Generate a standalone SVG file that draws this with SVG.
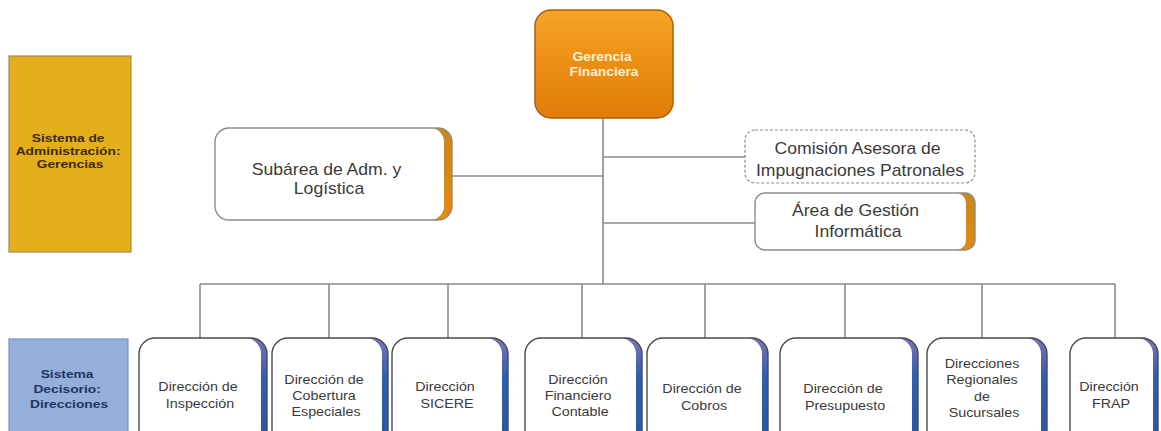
<svg xmlns="http://www.w3.org/2000/svg" width="1161" height="431" viewBox="0 0 1161 431">
  <style>
    .link { fill: none; stroke: #8a8a8a; stroke-width: 1.6; }
    .label { font-family: "Liberation Sans", Arial, sans-serif; text-anchor: middle; }
    .gold { fill: #E5AE1B; stroke: #9c8a5c; stroke-width: 1.2; }
    .gold-t { font-size: 11.5px; font-weight: bold; fill: #3b2c05; }
    .blue { fill: #94AFDA; stroke: #7b94c2; stroke-width: 1.2; }
    .blue-t { font-size: 11.5px; font-weight: bold; fill: #1d3563; }
    .head { fill: url(#orangeFill); stroke: #a95f0a; stroke-width: 1.5; }
    .head-t { font-size: 12px; font-weight: bold; fill: #fff1d8; }
    .card-dash { fill: #ffffff; stroke: #8c8c8c; stroke-width: 1.2; stroke-dasharray: 3 2; }
    .card-t { font-size: 16px; fill: #3a3a3a; }
    .dir-t { font-size: 13px; fill: #3a3a3a; }
    .edge-o { fill: url(#orangeEdge); }
    .edge-b { fill: url(#blueEdge); }
  </style>
  <defs>
    <linearGradient id="orangeFill" x1="0" y1="0" x2="0" y2="1">
      <stop offset="0" stop-color="#F5A526"/>
      <stop offset="0.5" stop-color="#EC8E14"/>
      <stop offset="1" stop-color="#E07C0B"/>
    </linearGradient>
    <linearGradient id="orangeEdge" x1="0" y1="0" x2="0" y2="1">
      <stop offset="0" stop-color="#C9871E"/>
      <stop offset="1" stop-color="#E48A0E"/>
    </linearGradient>
    <linearGradient id="blueEdge" x1="0" y1="0" x2="0" y2="1">
      <stop offset="0" stop-color="#7d72b8"/>
      <stop offset="0.35" stop-color="#2f5fae"/>
      <stop offset="1" stop-color="#2a56a0"/>
    </linearGradient>
  </defs>

  <!-- connectors -->
  <g id="connectors">
    <path class="link" d="M603 118 V284"/>
    <path class="link" d="M452 176 H603"/>
    <path class="link" d="M603 157 H745"/>
    <path class="link" d="M603 223 H755"/>
    <path class="link" d="M200 284 H1115"/>
    <path class="link" d="M200 284 V338 M329 284 V338 M448 284 V338 M582 284 V338 M705 284 V338 M845 284 V338 M982 284 V338 M1115 284 V338"/>
  </g>

  <!-- side labels -->
  <g id="label-gerencias">
    <rect class="gold" x="9" y="56" width="122" height="196"/>
    <text class="label gold-t" transform="translate(70 0) scale(1.2 1)">
      <tspan x="0" y="142">Sistema de</tspan>
      <tspan x="0" y="155">Administración:</tspan>
      <tspan x="0" y="168">Gerencias</tspan>
    </text>
  </g>
  <g id="label-direcciones">
    <rect class="blue" x="9" y="339" width="119" height="100"/>
    <text class="label blue-t" transform="translate(69 0) scale(1.2 1)">
      <tspan x="0" y="378">Sistema</tspan>
      <tspan x="0" y="393">Decisorio:</tspan>
      <tspan x="0" y="408">Direcciones</tspan>
    </text>
  </g>

  <!-- top node -->
  <g id="gerencia-financiera">
    <rect class="head" x="535" y="10" width="138" height="108" rx="16"/>
    <text class="label head-t" transform="translate(604 0) scale(1.15 1)">
      <tspan x="0" y="61">Gerencia</tspan>
      <tspan x="0" y="76">Financiera</tspan>
    </text>
  </g>

  <!-- second level -->
  <g id="subarea-adm">
    <rect class="edge-o" x="215" y="128" width="237" height="92" rx="14"/>
    <rect x="215" y="128" width="229" height="92" rx="14" fill="#ffffff"/>
    <rect x="215" y="128" width="237" height="92" rx="14" fill="none" stroke="#8c8c8c" stroke-width="1.4"/>
    <text class="label card-t" transform="translate(329 0) scale(1.1 1)">
      <tspan x="0" y="175">Subárea de Adm. y</tspan>
      <tspan x="0" y="194">Logística</tspan>
    </text>
  </g>
  <g id="comision-asesora">
    <rect class="card-dash" x="745" y="130" width="230" height="53" rx="10"/>
    <text class="label card-t" transform="translate(860 0) scale(1.1 1)">
      <tspan x="0" y="154">Comisión Asesora de</tspan>
      <tspan x="0" y="176">Impugnaciones Patronales</tspan>
    </text>
  </g>
  <g id="area-gestion-informatica">
    <rect class="edge-o" x="755" y="193" width="220" height="57" rx="10"/>
    <rect x="755" y="193" width="211" height="57" rx="10" fill="#ffffff"/>
    <rect x="755" y="193" width="220" height="57" rx="10" fill="none" stroke="#8c8c8c" stroke-width="1.4"/>
    <text class="label card-t" transform="translate(858 0) scale(1.1 1)">
      <tspan x="0" y="216">Área de Gestión</tspan>
      <tspan x="0" y="237">Informática</tspan>
    </text>
  </g>

  <!-- direcciones -->
  <g id="dir-inspeccion">
    <rect class="edge-b" x="139" y="338" width="128" height="110" rx="16"/>
    <rect x="139" y="338" width="122" height="110" rx="16" fill="#ffffff"/>
    <rect x="139" y="338" width="128" height="110" rx="16" fill="none" stroke="#4a4a4a" stroke-width="1.4"/>
    <text class="label dir-t" transform="translate(200 0) scale(1.1 1)">
      <tspan x="0" y="391">Dirección de</tspan>
      <tspan x="0" y="408">Inspección</tspan>
    </text>
  </g>
  <g id="dir-cobertura">
    <rect class="edge-b" x="272" y="338" width="116" height="110" rx="16"/>
    <rect x="272" y="338" width="110" height="110" rx="16" fill="#ffffff"/>
    <rect x="272" y="338" width="116" height="110" rx="16" fill="none" stroke="#4a4a4a" stroke-width="1.4"/>
    <text class="label dir-t" transform="translate(326 0) scale(1.1 1)">
      <tspan x="0" y="384">Dirección de</tspan>
      <tspan x="0" y="400">Cobertura</tspan>
      <tspan x="0" y="416">Especiales</tspan>
    </text>
  </g>
  <g id="dir-sicere">
    <rect class="edge-b" x="392" y="338" width="116" height="110" rx="16"/>
    <rect x="392" y="338" width="110" height="110" rx="16" fill="#ffffff"/>
    <rect x="392" y="338" width="116" height="110" rx="16" fill="none" stroke="#4a4a4a" stroke-width="1.4"/>
    <text class="label dir-t" transform="translate(447 0) scale(1.1 1)">
      <tspan x="0" y="391">Dirección</tspan>
      <tspan x="0" y="408">SICERE</tspan>
    </text>
  </g>
  <g id="dir-financiero-contable">
    <rect class="edge-b" x="525" y="338" width="117" height="110" rx="16"/>
    <rect x="525" y="338" width="111" height="110" rx="16" fill="#ffffff"/>
    <rect x="525" y="338" width="117" height="110" rx="16" fill="none" stroke="#4a4a4a" stroke-width="1.4"/>
    <text class="label dir-t" transform="translate(580 0) scale(1.1 1)">
      <tspan x="0" y="384">Dirección</tspan>
      <tspan x="0" y="400">Financiero</tspan>
      <tspan x="0" y="416">Contable</tspan>
    </text>
  </g>
  <g id="dir-cobros">
    <rect class="edge-b" x="647" y="338" width="121" height="110" rx="16"/>
    <rect x="647" y="338" width="115" height="110" rx="16" fill="#ffffff"/>
    <rect x="647" y="338" width="121" height="110" rx="16" fill="none" stroke="#4a4a4a" stroke-width="1.4"/>
    <text class="label dir-t" transform="translate(704 0) scale(1.1 1)">
      <tspan x="0" y="393">Dirección de</tspan>
      <tspan x="0" y="410">Cobros</tspan>
    </text>
  </g>
  <g id="dir-presupuesto">
    <rect class="edge-b" x="780" y="338" width="138" height="110" rx="16"/>
    <rect x="780" y="338" width="132" height="110" rx="16" fill="#ffffff"/>
    <rect x="780" y="338" width="138" height="110" rx="16" fill="none" stroke="#4a4a4a" stroke-width="1.4"/>
    <text class="label dir-t" transform="translate(845 0) scale(1.1 1)">
      <tspan x="0" y="393">Dirección de</tspan>
      <tspan x="0" y="410">Presupuesto</tspan>
    </text>
  </g>
  <g id="dir-regionales">
    <rect class="edge-b" x="927" y="338" width="120" height="110" rx="16"/>
    <rect x="927" y="338" width="114" height="110" rx="16" fill="#ffffff"/>
    <rect x="927" y="338" width="120" height="110" rx="16" fill="none" stroke="#4a4a4a" stroke-width="1.4"/>
    <text class="label dir-t" transform="translate(984 0) scale(1.1 1)">
      <tspan x="0" y="368">Direcciones</tspan>
      <tspan x="0" y="384">Regionales</tspan>
      <tspan x="0" y="401">de</tspan>
      <tspan x="0" y="417">Sucursales</tspan>
    </text>
  </g>
  <g id="dir-frap">
    <rect class="edge-b" x="1070" y="338" width="88" height="110" rx="16"/>
    <rect x="1070" y="338" width="83" height="110" rx="16" fill="#ffffff"/>
    <rect x="1070" y="338" width="88" height="110" rx="16" fill="none" stroke="#4a4a4a" stroke-width="1.4"/>
    <text class="label dir-t" transform="translate(1111 0) scale(1.1 1)">
      <tspan x="0" y="391">Dirección</tspan>
      <tspan x="0" y="408">FRAP</tspan>
    </text>
  </g>
</svg>
